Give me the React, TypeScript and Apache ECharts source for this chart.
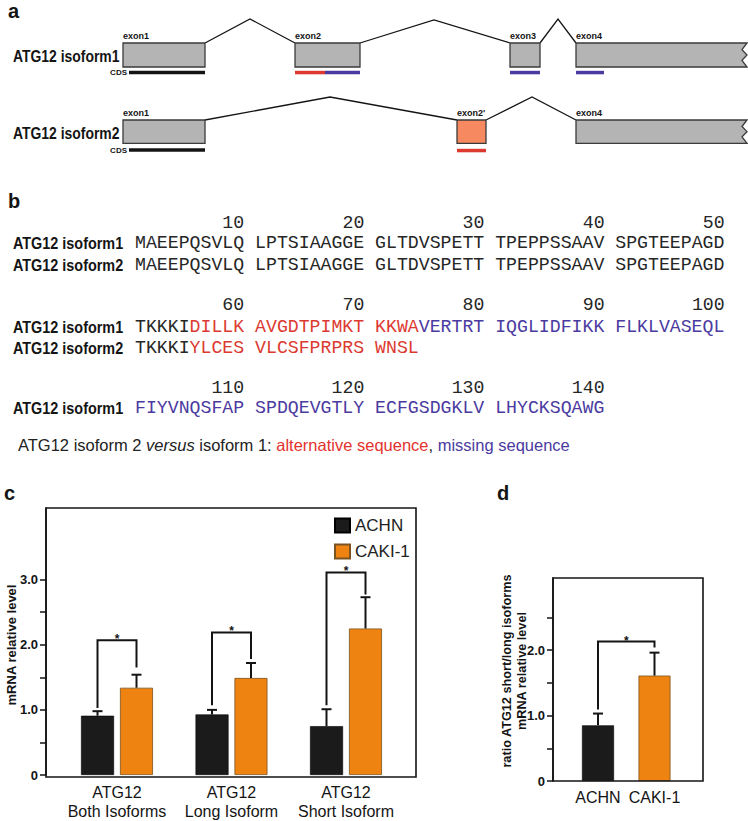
import React, { useEffect, useRef } from 'react';
import * as echarts from 'echarts';

// ---------- DATA ----------
const categoriesC = ['ATG12\nBoth Isoforms', 'ATG12\nLong Isoform', 'ATG12\nShort Isoform'];
const achnC = [0.91, 0.93, 0.75];
const achnErrC = [0.98, 1.0, 1.01];
const cakiC = [1.34, 1.49, 2.25];
const cakiErrC = [1.54, 1.72, 2.73];
// [left leg bottom, bracket top, right leg bottom]
const bracketC = [
  [1.03, 2.07, 1.65],
  [1.07, 2.19, 1.78],
  [1.07, 3.11, 2.77],
];
const yTicksC = [0, 0.5, 1, 1.5, 2, 2.5, 3];
const yLabelsC = [0, 1, 2, 3];

const categoriesD = ['ACHN', 'CAKI-1'];
const ratioD = [0.85, 1.61];
const ratioErrD = [1.03, 1.96];
const bracketD = [1.09, 2.13, 2.04];
const yTicksD = [0, 0.5, 1, 1.5, 2, 2.5];
const yLabelsD = [0, 1, 2];

const seriesNames = ['ACHN', 'CAKI-1'];

const exonLabels1 = ['exon1', 'exon2', 'exon3', 'exon4'];
const exonLabels2 = ['exon1', "exon2'", 'exon4'];
const isoformLabels = ['ATG12 isoform1', 'ATG12 isoform2'];

type Seg = [string, 'k' | 'r' | 'p'];
const seqNumbers = [
  [10, 20, 30, 40, 50],
  [60, 70, 80, 90, 100],
  [110, 120, 130, 140],
];
const seqBlock1: Seg[][] = [
  [['MAEEPQSVLQ LPTSIAAGGE GLTDVSPETT TPEPPSSAAV SPGTEEPAGD', 'k']],
  [['MAEEPQSVLQ LPTSIAAGGE GLTDVSPETT TPEPPSSAAV SPGTEEPAGD', 'k']],
];
const seqBlock2: Seg[][] = [
  [['TKKKI', 'k'], ['DILLK AVGDTPIMKT KKWA', 'r'], ['VERTRT IQGLIDFIKK FLKLVASEQL', 'p']],
  [['TKKKI', 'k'], ['YLCES VLCSFPRPRS WNSL', 'r']],
];
const seqBlock3: Seg[][] = [
  [['FIYVNQSFAP SPDQEVGTLY ECFGSDGKLV LHYCKSQAWG', 'p']],
];
const seqBlocks = [seqBlock1, seqBlock2, seqBlock3];

// ---------- STYLE ----------
const SANS = '"Liberation Sans", Arial, Helvetica, sans-serif';
const MONO = '"Liberation Mono", "DejaVu Sans Mono", monospace';
const INK = '#141414';
const RED = '#DC3A30';
const PURPLE = '#4B3AA0';
const GREY = '#B4B4B4';
const EXON_STROKE = '#3a3a3a';
const SALMON = '#F6895F';
const BAR_BLACK = '#1b1b1b';
const BAR_ORANGE = '#EE8311';

function buildGraphics() {
  const g: any[] = [];
  const text = (t: string, x: number, y: number, font: string, o: any = {}) => {
    const el: any = {
      type: 'text',
      x,
      y,
      silent: true,
      z: 20,
      style: {
        text: t,
        font,
        fill: o.fill || INK,
        align: o.align || 'left',
        verticalAlign: o.va || 'middle',
      },
    };
    if (o.scaleX) el.scaleX = o.scaleX;
    if (o.rotation) el.rotation = o.rotation;
    if (o.rich) el.style.rich = o.rich;
    if (o.lineHeight) el.style.lineHeight = o.lineHeight;
    g.push(el);
  };
  const rect = (x: number, y: number, w: number, h: number, style: any) =>
    g.push({ type: 'rect', silent: true, z: 10, shape: { x, y, width: w, height: h }, style });
  const poly = (points: number[][], style: any, type = 'polyline') =>
    g.push({ type, silent: true, z: 10, shape: { points }, style });

  // panel letters
  const letterFont = `bold 20px ${SANS}`;
  text('a', 8, 11, letterFont);
  text('b', 8, 201, letterFont);
  text('c', 4, 493, letterFont);
  text('d', 497, 493, letterFont);

  // ---------- panel a ----------
  const labelFont = `bold 16px ${SANS}`;
  const exonFont = `bold 9px ${SANS}`;
  const cdsFont = `bold 8px ${SANS}`;
  const exonStyle = { fill: GREY, stroke: EXON_STROKE, lineWidth: 1.3 };
  const intronStyle = { stroke: INK, lineWidth: 1.3, fill: null };
  const jag = (x0: number, top: number, bot: number) => {
    const h = bot - top;
    return [
      [x0, top], [747, top], [742, top + h * 0.28], [747, top + h * 0.5],
      [742, top + h * 0.72], [747, bot], [x0, bot],
    ];
  };

  // isoform1
  {
    const top = 43, bot = 67, h = bot - top;
    text(isoformLabels[0], 13, 56, labelFont, { scaleX: 0.87 });
    poly([[205, top], [250, 19], [295, top]], intronStyle);
    poly([[360, top], [434, 20], [510, top]], intronStyle);
    poly([[540, top], [558, 19], [576, top]], intronStyle);
    rect(123, top, 82, h, exonStyle);
    rect(295, top, 65, h, exonStyle);
    rect(510, top, 30, h, exonStyle);
    poly(jag(576, top, bot), exonStyle, 'polygon');
    const xs = [123, 295, 510, 576];
    exonLabels1.forEach((l, i) => text(l, xs[i], top - 7, exonFont));
    text('CDS', 127, 72.5, cdsFont, { align: 'right' });
    rect(129, 70.8, 76, 3.5, { fill: INK });
    rect(295, 70.8, 30, 3.5, { fill: RED });
    rect(325, 70.8, 35, 3.5, { fill: PURPLE });
    rect(510, 70.8, 30, 3.5, { fill: PURPLE });
    rect(576, 70.8, 28, 3.5, { fill: PURPLE });
  }
  // isoform2
  {
    const top = 120, bot = 143.3, h = bot - top;
    text(isoformLabels[1], 13, 133, labelFont, { scaleX: 0.87 });
    poly([[205, top], [330, 97], [457, top]], intronStyle);
    poly([[486, top], [532, 97], [576, top]], intronStyle);
    rect(123, top, 82, h, exonStyle);
    rect(457, top, 29, h, { fill: SALMON, stroke: EXON_STROKE, lineWidth: 1.3 });
    poly(jag(576, top, bot), exonStyle, 'polygon');
    const xs = [123, 457, 576];
    exonLabels2.forEach((l, i) => text(l, xs[i], top - 7, exonFont));
    text('CDS', 127, 150, cdsFont, { align: 'right' });
    rect(129, 148.3, 76, 3.5, { fill: INK });
    rect(457, 148.8, 29, 3.5, { fill: RED });
  }

  // ---------- panel b ----------
  const fs = 18.2;
  const cw = fs * 0.6;
  const x0 = 135;
  const monoFont = `${fs}px ${MONO}`;
  const rich = {
    k: { fill: '#262626', font: monoFont },
    r: { fill: RED, font: monoFont },
    p: { fill: PURPLE, font: monoFont },
  };
  const blockY = [
    [223, 243, 265],
    [305, 327, 348],
    [388, 408],
  ];
  seqBlocks.forEach((block, bi) => {
    const ys = blockY[bi];
    seqNumbers[bi].forEach((n, k) => {
      text(String(n), x0 + (11 * k + 10) * cw, ys[0], monoFont, { align: 'right', fill: '#262626' });
    });
    block.forEach((segs, ri) => {
      const y = ys[ri + 1];
      text(isoformLabels[ri], 13, y, labelFont, { scaleX: 0.9 });
      const str = segs.map(([t, c]) => `{${c}|${t}}`).join('');
      text(str, x0, y, monoFont, { rich });
    });
  });
  const lf = `16.5px ${SANS}`;
  text(
    '{n|ATG12 isoform 2 }{i|versus}{n| isoform 1: }{r|alternative sequence}{n|, }{p|missing sequence}',
    18,
    445,
    lf,
    {
      rich: {
        n: { fill: '#222', font: lf },
        i: { fill: '#222', font: `italic 16.5px ${SANS}` },
        r: { fill: '#E3322E', font: lf },
        p: { fill: PURPLE, font: lf },
      },
    }
  );

  // ---------- panel c / d frames and axis names ----------
  rect(46, 508, 370, 269, { fill: null, stroke: INK, lineWidth: 1.6 });
  rect(553, 578, 150, 203, { fill: null, stroke: INK, lineWidth: 1.6 });
  text('mRNA relative level', 11, 645, `bold 13px ${SANS}`, { align: 'center', rotation: Math.PI / 2 });
  text('ratio ATG12 short/long isoforms\nmRNA relative level', 514.5, 671, `bold 12.7px ${SANS}`, {
    align: 'center',
    rotation: Math.PI / 2,
    lineHeight: 15,
  });
  return g;
}

function errRender(off: number) {
  return (_p: any, api: any) => {
    const i = api.value(0);
    const top = api.coord([i, api.value(1)]);
    const base = api.coord([i, api.value(2)]);
    const x = top[0] + off;
    const st = { stroke: INK, lineWidth: 2 };
    return {
      type: 'group',
      children: [
        { type: 'line', shape: { x1: x, y1: base[1], x2: x, y2: top[1] }, style: st },
        { type: 'line', shape: { x1: x - 5, y1: top[1], x2: x + 5, y2: top[1] }, style: st },
      ],
    };
  };
}

function bracketRender(offL: number, offR: number) {
  return (_p: any, api: any) => {
    const li = api.value(0);
    const ri = api.value(4);
    const lb = api.coord([li, api.value(1)]);
    const tp = api.coord([li, api.value(2)]);
    const rb = api.coord([ri, api.value(3)]);
    const xl = lb[0] + offL;
    const xr = rb[0] + offR;
    return {
      type: 'group',
      children: [
        {
          type: 'polyline',
          shape: { points: [[xl, lb[1]], [xl, tp[1]], [xr, tp[1]], [xr, rb[1]]] },
          style: { stroke: INK, lineWidth: 2, fill: null },
        },
        {
          type: 'text',
          x: (xl + xr) / 2,
          y: tp[1] - 1,
          style: { text: '*', font: `bold 12px ${SANS}`, fill: INK, align: 'center', verticalAlign: 'middle' },
        },
      ],
    };
  };
}

const yAxisBase = (gridIndex: number, max: number, offset: number, ticks: number[], labels: number[]) => ({
  gridIndex,
  type: 'value',
  min: 0,
  max,
  offset,
  splitLine: { show: false },
  axisLine: { show: true, lineStyle: { color: INK, width: 1.6 } },
  axisTick: { show: true, length: 6, customValues: ticks, lineStyle: { color: INK, width: 1.5 } },
  axisLabel: {
    customValues: labels,
    formatter: (v: number) => (v === 0 ? '0' : v.toFixed(1)),
    fontWeight: 'bold',
    fontSize: 13,
    fontFamily: SANS,
    color: INK,
    margin: 8,
  },
});

export default function App() {
  const ref = useRef<HTMLDivElement>(null);
  useEffect(() => {
    if (!ref.current) return;
    const chart = echarts.init(ref.current, undefined, { renderer: 'svg' });
    const option: any = {
      animation: false,
      backgroundColor: '#fff',
      textStyle: { fontFamily: SANS },
      legend: {
        data: seriesNames,
        orient: 'vertical',
        left: 334,
        top: 517,
        padding: 0,
        itemWidth: 15,
        itemHeight: 14,
        itemGap: 9,
        icon: 'rect',
        selectedMode: false,
        textStyle: { fontSize: 17, color: '#222', fontFamily: SANS },
      },
      grid: [
        { left: 59.75, top: 508, width: 343.5, height: 269 },
        { left: 569.75, top: 578, width: 113, height: 203 },
      ],
      xAxis: [
        {
          gridIndex: 0,
          type: 'category',
          data: categoriesC,
          axisLine: { show: false },
          axisTick: { show: false },
          axisLabel: { fontSize: 16, lineHeight: 19, color: INK, margin: 8, interval: 0, fontFamily: SANS },
        },
        {
          gridIndex: 1,
          type: 'category',
          data: categoriesD,
          axisLine: { show: false },
          axisTick: { show: false },
          axisLabel: { fontSize: 16, color: INK, margin: 8, interval: 0, fontFamily: SANS },
        },
      ],
      yAxis: [yAxisBase(0, 4.1, 13.75, yTicksC, yLabelsC), yAxisBase(1, 3.1, 16.75, yTicksD, yLabelsD)],
      series: [
        {
          type: 'bar',
          name: seriesNames[0],
          xAxisIndex: 0,
          yAxisIndex: 0,
          data: achnC,
          barWidth: 33,
          barGap: '18%',
          itemStyle: { color: BAR_BLACK, borderColor: '#000', borderWidth: 0.6 },
        },
        {
          type: 'bar',
          name: seriesNames[1],
          xAxisIndex: 0,
          yAxisIndex: 0,
          data: cakiC,
          barWidth: 33,
          barGap: '18%',
          itemStyle: { color: BAR_ORANGE, borderColor: '#7a5320', borderWidth: 0.8 },
        },
        {
          type: 'custom',
          xAxisIndex: 0,
          yAxisIndex: 0,
          renderItem: errRender(-19.5),
          data: achnC.map((v, i) => [i, achnErrC[i], v]),
          z: 3,
        },
        {
          type: 'custom',
          xAxisIndex: 0,
          yAxisIndex: 0,
          renderItem: errRender(19.5),
          data: cakiC.map((v, i) => [i, cakiErrC[i], v]),
          z: 3,
        },
        {
          type: 'custom',
          xAxisIndex: 0,
          yAxisIndex: 0,
          renderItem: bracketRender(-19.5, 19.5),
          data: bracketC.map((b, i) => [i, b[0], b[1], b[2], i]),
          z: 3,
        },
        {
          type: 'bar',
          name: 'ratio',
          xAxisIndex: 1,
          yAxisIndex: 1,
          barWidth: 32,
          data: ratioD.map((v, i) => ({
            value: v,
            itemStyle:
              i === 0
                ? { color: BAR_BLACK, borderColor: '#000', borderWidth: 0.6 }
                : { color: BAR_ORANGE, borderColor: '#7a5320', borderWidth: 0.8 },
          })),
        },
        {
          type: 'custom',
          xAxisIndex: 1,
          yAxisIndex: 1,
          renderItem: errRender(0),
          data: ratioD.map((v, i) => [i, ratioErrD[i], v]),
          z: 3,
        },
        {
          type: 'custom',
          xAxisIndex: 1,
          yAxisIndex: 1,
          renderItem: bracketRender(0, 0),
          data: [[0, bracketD[0], bracketD[1], bracketD[2], 1]],
          z: 3,
        },
      ],
      graphic: { elements: buildGraphics() },
    };
    chart.setOption(option);
    return () => chart.dispose();
  }, []);
  return (
    <div
      ref={ref}
      style={{ position: 'fixed', left: 0, top: 0, width: 748, height: 821, background: '#fff' }}
    />
  );
}
